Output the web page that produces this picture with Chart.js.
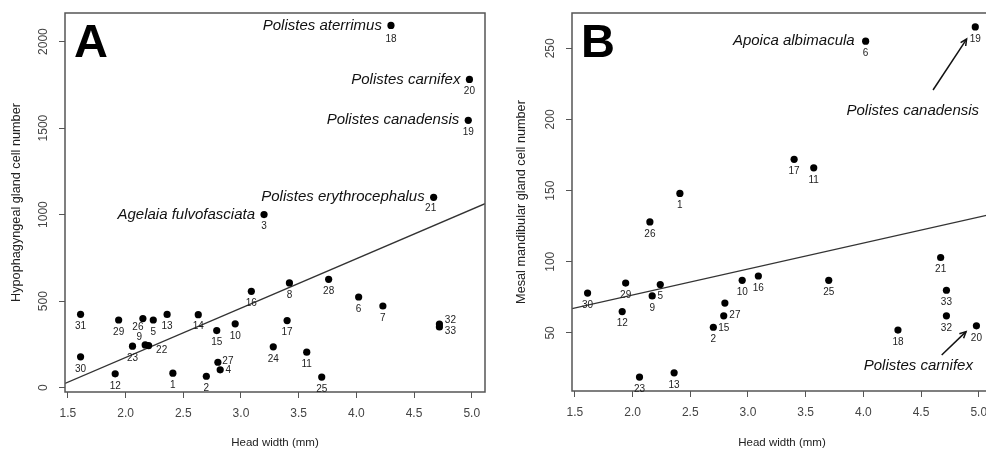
<!DOCTYPE html>
<html><head><meta charset="utf-8">
<script src="https://cdn.jsdelivr.net/npm/chart.js@4.4.1/dist/chart.umd.min.js"></script>
<style>
html,body{margin:0;padding:0;background:#fff;}
#wrap{position:relative;width:986px;height:450px;overflow:hidden;background:#fff;}
#cA{position:absolute;left:0;top:0;}
#cB{position:absolute;left:493px;top:0;}
</style></head><body>
<div id="wrap"><canvas id="cA" width="493" height="450"></canvas><canvas id="cB" width="507" height="450"></canvas></div>
<script>
// ---- data (species 1..33) ----
const speciesIds = [1,2,3,4,5,6,7,8,9,10,11,12,13,14,15,16,17,18,19,20,21,22,23,24,25,26,27,28,29,30,31,32,33];
const headWidth = [2.41,2.70,3.20,2.82,2.24,4.02,4.23,3.42,2.17,2.95,3.57,1.91,2.36,2.63,2.79,3.09,3.40,4.30,4.97,4.98,4.67,2.20,2.06,3.28,3.70,2.15,2.80,3.76,1.94,1.61,1.61,4.72,4.72];
const hypoCells = [84,66,1000,103,391,524,472,605,247,369,205,80,423,422,330,557,388,2093,1545,1781,1100,243,240,236,61,399,147,626,391,178,424,368,351];
const mandCells = [148,54,null,null,84,255,null,null,76,87,166,65,22,null,62,90,172,52,265,55,103,null,19,null,87,128,71,null,85,78,null,62,80];
const xTicks = [1.5,2.0,2.5,3.0,3.5,4.0,4.5,5.0];
const yTicksA = [0,500,1000,1500,2000];
const yTicksB = [50,100,150,200,250];
const fitX = [1.475, 5.115];
const fitYA = [24, 1063];
const fitYB = [67, 133.5];
const namesA = {18:'Polistes aterrimus',20:'Polistes carnifex',19:'Polistes canadensis',21:'Polistes erythrocephalus',3:'Agelaia fulvofasciata'};
const namesB = {6:'Apoica albimacula'};
const calloutTextB = ['Polistes canadensis','Polistes carnifex'];
const calloutXB = [5.003, 4.95];
const calloutYB = [205.9, 27.0];
const arrowFromB = [[4.604,220.7],[4.679,34.5]];
const arrowToB = [[4.895,256.5],[4.89,50.9]];

// ---- layout (label offsets in px) ----
const labelOffA = {26:[-5,9],9:[-6,-8],22:[13,5],27:[10,-1],4:[8,0],32:[11,-4],33:[11,4],21:[-3,11],18:[0,14]};
const labelOffB = {27:[10,12]};
const FONT = '"Liberation Sans", Arial, Helvetica, sans-serif';

function points(yArr){
  const out=[];
  speciesIds.forEach((id,i)=>{ if(yArr[i]!==null) out.push({x:headWidth[i], y:yArr[i], id:id}); });
  return out;
}

const annot = {
  id:'annot',
  afterDraw(chart, args, o){
    const ctx=chart.ctx, xs=chart.scales.x, ys=chart.scales.y, ca=chart.chartArea;
    ctx.save();
    ctx.strokeStyle='#555'; ctx.lineWidth=1.5;
    ctx.strokeRect(ca.left, ca.top, ca.right-ca.left, ca.bottom-ca.top);
    // rotated y tick labels
    ctx.fillStyle='#444'; ctx.font='12px '+FONT;
    o.yTicks.forEach(v=>{
      const y=ys.getPixelForValue(v);
      ctx.save(); ctx.translate(ca.left-21, y); ctx.rotate(-Math.PI/2);
      ctx.textAlign='center'; ctx.textBaseline='middle'; ctx.fillText(String(v),0,0); ctx.restore();
    });
    // point number labels
    const meta=chart.getDatasetMeta(0);
    const data=chart.data.datasets[0].data;
    ctx.fillStyle='#222'; ctx.font='10px '+FONT; ctx.textAlign='center'; ctx.textBaseline='middle';
    meta.data.forEach((el,i)=>{
      const id=data[i].id; const off=o.labelOff[id]||[0,12];
      ctx.fillText(String(id), el.x+off[0], el.y+off[1]);
    });
    // species names attached to points
    ctx.fillStyle='#111'; ctx.font='italic 15px '+FONT; ctx.textAlign='right'; ctx.textBaseline='middle';
    meta.data.forEach((el,i)=>{
      const id=data[i].id;
      if(o.names[id]) ctx.fillText(o.names[id], el.x-o.nameGap, el.y);
    });
    // free callouts
    (o.callText||[]).forEach((t,i)=>{
      ctx.fillText(t, xs.getPixelForValue(o.callX[i]), ys.getPixelForValue(o.callY[i]));
    });
    // arrows
    ctx.strokeStyle='#111'; ctx.lineWidth=1.5;
    (o.arrFrom||[]).forEach((f,i)=>{
      const t=o.arrTo[i];
      const x1=xs.getPixelForValue(f[0]), y1=ys.getPixelForValue(f[1]);
      const x2=xs.getPixelForValue(t[0]), y2=ys.getPixelForValue(t[1]);
      ctx.beginPath(); ctx.moveTo(x1,y1); ctx.lineTo(x2,y2); ctx.stroke();
      const a=Math.atan2(y2-y1,x2-x1), L=7;
      ctx.beginPath();
      ctx.moveTo(x2-L*Math.cos(a-0.45), y2-L*Math.sin(a-0.45));
      ctx.lineTo(x2,y2);
      ctx.lineTo(x2-L*Math.cos(a+0.45), y2-L*Math.sin(a+0.45));
      ctx.stroke();
    });
    // panel letter
    ctx.fillStyle='#000'; ctx.font='bold 47px '+FONT; ctx.textAlign='left'; ctx.textBaseline='alphabetic';
    ctx.fillText(o.letter, ca.left+9, ca.top+44);
    ctx.restore();
  }
};

function makeChart(canvas, cfg){
  return new Chart(canvas, {
    type:'scatter',
    data:{datasets:[
      {data:points(cfg.values), backgroundColor:'#000', borderWidth:0, pointRadius:3.6, pointHoverRadius:3.6},
      {data:fitX.map((x,i)=>({x:x,y:cfg.fitY[i]})), showLine:true, pointRadius:0, borderColor:'#333', borderWidth:1.3, fill:false}
    ]},
    options:{
      responsive:false, animation:false, events:[], devicePixelRatio:1,
      layout:{padding:{top:13,right:8,bottom:0,left:0}},
      plugins:{legend:{display:false}, tooltip:{enabled:false}, annot:cfg.annot},
      scales:{
        x:{type:'linear', min:1.475, max:5.115,
          afterBuildTicks:s=>{s.ticks=xTicks.map(v=>({value:v}));},
          afterFit:s=>{s.height=cfg.xH;},
          grid:{display:true, drawOnChartArea:false, drawTicks:true, tickLength:6, color:'#555'},
          border:{display:false},
          ticks:{padding:8, color:'#444', font:{family:FONT,size:12}, callback:v=>Number(v).toFixed(1)},
          title:{display:true, text:'Head width (mm)', color:'#222', font:{family:FONT,size:11.5}, padding:{top:0,bottom:0}}
        },
        y:{type:'linear', min:cfg.yMin, max:cfg.yMax,
          afterBuildTicks:s=>{s.ticks=cfg.yTicks.map(v=>({value:v}));},
          afterFit:s=>{s.width=cfg.yW;},
          grid:{display:true, drawOnChartArea:false, drawTicks:true, tickLength:6, color:'#555'},
          border:{display:false},
          ticks:{display:false},
          title:{display:true, text:cfg.yTitle, color:'#222', font:{family:FONT,size:12.7}, padding:{top:cfg.yTitlePad,bottom:0}}
        }
      }
    },
    plugins:[annot]
  });
}

makeChart(document.getElementById('cA'), {
  values:hypoCells, fitY:fitYA, yMin:-25, yMax:2165, yTicks:yTicksA, xH:58, yW:65, yTitlePad:9,
  yTitle:'Hypophagyngeal gland cell number',
  annot:{yTicks:yTicksA, labelOff:labelOffA, names:namesA, nameGap:9, letter:'A'}
});
makeChart(document.getElementById('cB'), {
  values:mandCells, fitY:fitYB, yMin:9.2, yMax:274.8, yTicks:yTicksB, xH:59, yW:79, yTitlePad:21,
  yTitle:'Mesal mandibular gland cell number',
  annot:{yTicks:yTicksB, labelOff:labelOffB, names:namesB, nameGap:11, letter:'B',
    callText:calloutTextB, callX:calloutXB, callY:calloutYB, arrFrom:arrowFromB, arrTo:arrowToB}
});
</script>
</body></html>
